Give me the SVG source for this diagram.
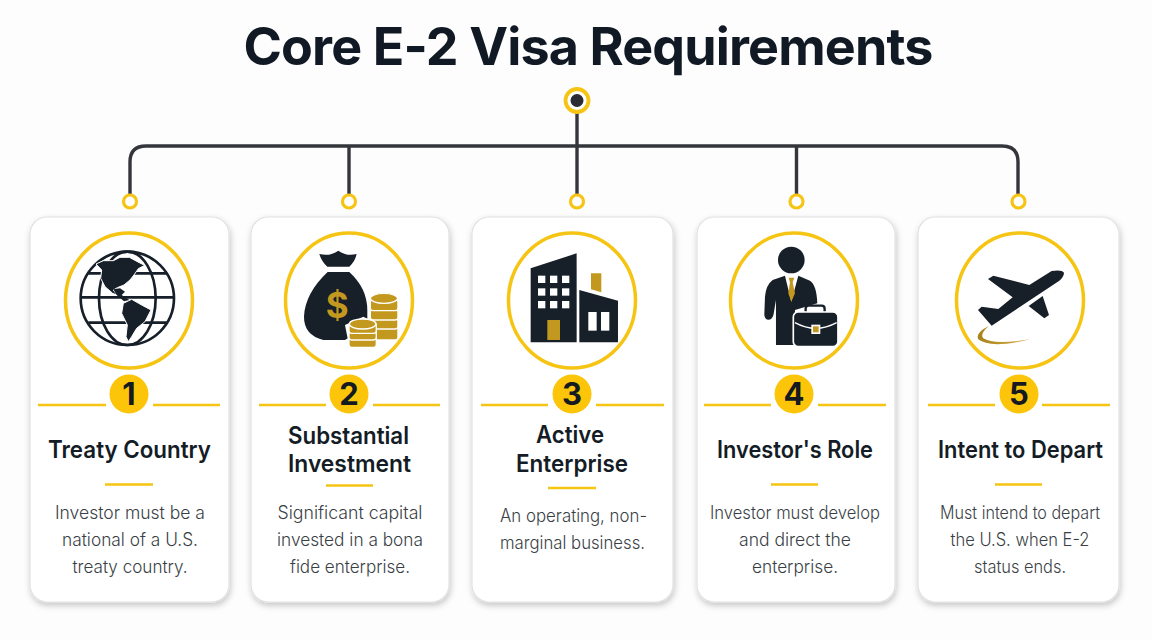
<svg xmlns="http://www.w3.org/2000/svg" width="1152" height="640" viewBox="0 0 1152 640">
<style>
.title{font:700 52px Inter,"Liberation Sans",sans-serif;fill:#111a24;text-anchor:middle;letter-spacing:-.85px}
.h{font:600 24px Inter,"Liberation Sans",sans-serif;fill:#141c26;text-anchor:middle}
.b{font:300 18px Inter,"Liberation Sans",sans-serif;fill:#3a3f46;text-anchor:middle}
.n{font:700 31px Inter,"Liberation Sans",sans-serif;fill:#141a20;text-anchor:middle}
.card{fill:#fff;stroke:#dfe1e4;stroke-width:1.2;filter:url(#sh)}
.ring{fill:#fff;stroke:#f6c413;stroke-width:3.5}
.badge{fill:#fcc509}
.rule{stroke:#f6c413;stroke-width:2.6;fill:none}
.conn{stroke:#34363b;stroke-width:3.4;fill:none}
.dot{fill:#fff;stroke:#f6c413;stroke-width:3.2}
.dk{fill:#171f29}
.gd{fill:#c3981f}
.wh{fill:#fff}
</style>
<defs>
<filter id="sh" x="-10%" y="-10%" width="120%" height="120%"><feDropShadow dx="1" dy="3" stdDeviation="3" flood-color="#000" flood-opacity=".22"/></filter>
<linearGradient id="sw" x1="0" x2="1" y1="0" y2="0"><stop offset="0" stop-color="#a88218"/><stop offset="1" stop-color="#d8b04a"/></linearGradient>
</defs>
<rect width="1152" height="640" fill="#fdfdfd"/>
<text class="title" x="588" y="65">Core E-2 Visa Requirements</text>
<g id="connectors">
<path class="conn" d="M577 108V195"/>
<path class="conn" d="M130 195V162Q130 146 146 146H1002Q1018 146 1018 162V195"/>
<path class="conn" d="M349 146V195M796.500 146V195"/>
<circle cx="577" cy="100.500" r="11.500" fill="#fff" stroke="#f6c413" stroke-width="3.800"/>
<circle cx="577" cy="100.500" r="6.500" fill="#2a2c33"/>
<circle class="dot" cx="130" cy="201.500" r="6.500"/>
<circle class="dot" cx="349" cy="201.500" r="6.500"/>
<circle class="dot" cx="577" cy="201.500" r="6.500"/>
<circle class="dot" cx="796.500" cy="201.500" r="6.500"/>
<circle class="dot" cx="1018.500" cy="201.500" r="6.500"/>
</g>
<g id="node1">
<rect class="card" x="30" y="217" width="199" height="385" rx="17"/>
<ellipse class="ring" cx="129" cy="300.500" rx="63.500" ry="67.500"/>
<g transform="translate(70 240) scale(.3333)">
<g fill="none" stroke="#171f29" stroke-width="8">
<circle cx="172" cy="175" r="140"/><ellipse cx="172" cy="175" rx="85" ry="140"/>
<path d="M55 100H290M32 172H312M55 248H290"/></g>
<g class="dk" stroke="#fff" stroke-width="3">
<path d="M78 72L100 62L130 62L150 52L178 52L208 68L224 76L205 86L192 105L180 120L162 135L142 143L130 150L142 166L128 160L105 140L92 115L95 90Z"/>
<path d="M160 190L185 178L215 195L243 210L225 245L200 265L185 290L175 305L168 290L172 255L155 220Z"/>
</g>
<path class="dk" d="M130 148L150 145L165 155L155 165L178 180L162 184L140 165Z"/>
</g>
<circle class="badge" cx="129" cy="394" r="19.500"/><text class="n" x="129" y="405">1</text>
<path class="rule" d="M38 405H106M153 405H220M105 484.500H153"/>
<text class="h" x="129.500" y="458" textLength="163" lengthAdjust="spacingAndGlyphs">Treaty Country</text>
<text class="b" x="130" y="519" textLength="150" lengthAdjust="spacingAndGlyphs">Investor must be a</text>
<text class="b" x="130" y="546" textLength="136" lengthAdjust="spacingAndGlyphs">national of a U.S.</text>
<text class="b" x="130" y="573" textLength="115" lengthAdjust="spacingAndGlyphs">treaty country.</text>
</g>
<g id="node2">
<rect class="card" x="251" y="217" width="198" height="385" rx="17"/>
<ellipse class="ring" cx="349" cy="300.500" rx="63.500" ry="67.500"/>
<g transform="translate(30 210) scale(.3333)">
<path class="dk" d="M868 132Q900 140 925 122Q950 140 980 132Q975 155 958 170H892Q875 155 868 132Z"/>
<path class="dk" d="M893 186H958Q1012 235 1012 300V350L945 390H880Q822 375 822 320Q825 250 893 186Z"/>
<text x="922" y="325" font-family="Inter,'Liberation Sans',sans-serif" font-weight="700" font-size="105" text-anchor="middle" fill="#c3981f">$</text>
<g class="gd" stroke="#fff" stroke-width="4">
<rect x="1021" y="350" width="83" height="40" rx="8"/><rect x="1021" y="325" width="83" height="32" rx="8"/><rect x="1021" y="298" width="83" height="32" rx="8"/><rect x="1021" y="268" width="83" height="34" rx="8"/><ellipse cx="1062" cy="265" rx="41" ry="15"/>
</g>
<path d="M945 345L1000 320L1040 340V405L960 420Z" fill="#fff"/>
<g class="gd" stroke="#fff" stroke-width="4">
<rect x="957" y="382" width="82" height="30" rx="8"/><rect x="957" y="362" width="82" height="28" rx="8"/><rect x="957" y="342" width="82" height="28" rx="8"/><ellipse cx="998" cy="342" rx="40" ry="15"/>
</g>
</g>
<circle class="badge" cx="349" cy="394" r="19.500"/><text class="n" x="349" y="405">2</text>
<path class="rule" d="M259 405H326M373 405H440M326 485.500H373"/>
<text class="h" x="348.500" y="444" textLength="121" lengthAdjust="spacingAndGlyphs">Substantial</text>
<text class="h" x="349.500" y="472" textLength="123" lengthAdjust="spacingAndGlyphs">Investment</text>
<text class="b" x="350" y="519" textLength="145" lengthAdjust="spacingAndGlyphs">Significant capital</text>
<text class="b" x="350" y="546" textLength="146" lengthAdjust="spacingAndGlyphs">invested in a bona</text>
<text class="b" x="350" y="573" textLength="120" lengthAdjust="spacingAndGlyphs">fide enterprise.</text>
</g>
<g id="node3">
<rect class="card" x="472" y="217" width="201" height="385" rx="17"/>
<ellipse class="ring" cx="572" cy="300.500" rx="63.500" ry="67.500"/>
<g transform="translate(470 210) scale(.3333)">
<path class="dk" d="M182 175L320 130V397H182Z"/>
<g class="wh"><rect x="204" y="197" width="22" height="22"/><rect x="240" y="197" width="22" height="22"/><rect x="276" y="197" width="22" height="22"/><rect x="204" y="235" width="22" height="22"/><rect x="240" y="235" width="22" height="22"/><rect x="276" y="235" width="22" height="22"/><rect x="204" y="273" width="22" height="22"/><rect x="240" y="273" width="22" height="22"/><rect x="276" y="273" width="22" height="22"/></g>
<rect class="gd" x="232" y="330" width="38" height="60"/>
<path class="dk" d="M328 240L444 272V397H328Z"/>
<path class="gd" d="M363 190H394V247L363 238Z"/>
<rect class="wh" x="355" y="306" width="25" height="56"/><rect class="wh" x="393" y="306" width="25" height="56"/>
</g>
<circle class="badge" cx="572" cy="394" r="19.500"/><text class="n" x="572" y="405">3</text>
<path class="rule" d="M481 405H548M596 405H664M548 488H596"/>
<text class="h" x="570" y="443" textLength="68" lengthAdjust="spacingAndGlyphs">Active</text>
<text class="h" x="572" y="472" textLength="112" lengthAdjust="spacingAndGlyphs">Enterprise</text>
<text class="b" x="573.500" y="522" textLength="147" lengthAdjust="spacingAndGlyphs">An operating, non-</text>
<text class="b" x="572.500" y="549" textLength="145" lengthAdjust="spacingAndGlyphs">marginal business.</text>
</g>
<g id="node4">
<rect class="card" x="697" y="217" width="198" height="385" rx="17"/>
<ellipse class="ring" cx="794" cy="300.500" rx="63.500" ry="67.500"/>
<g transform="translate(470 210) scale(.3333)">
<circle class="dk" cx="964" cy="150" r="40"/>
<path class="dk" d="M945 197L908 210Q888 225 885 260L883 315Q885 330 897 329Q908 328 911 312L918 270V405H975V300L1042 280Q1040 225 1020 212L985 197L964 275Z"/>
<path class="gd" d="M956 203H973L968 217L975 250L964 275L955 250L960 217Z"/>
<path d="M1007 305V296Q1007 287 1016 287H1055Q1064 287 1064 296V305" fill="none" stroke="#171f29" stroke-width="7"/>
<rect class="dk" x="970" y="306" width="134" height="104" rx="15" stroke="#fff" stroke-width="5"/>
<path d="M975 338Q1037 372 1100 338" fill="none" stroke="#fff" stroke-width="4"/>
<rect x="1024" y="344" width="27" height="28" fill="#fff"/><rect class="gd" x="1029" y="349" width="17" height="18"/>
</g>
<circle class="badge" cx="794" cy="394" r="19.500"/><text class="n" x="794" y="405">4</text>
<path class="rule" d="M704 405H771M818 405H886M771 484.500H818"/>
<text class="h" x="795" y="458" textLength="156" lengthAdjust="spacingAndGlyphs">Investor's Role</text>
<text class="b" x="795" y="519" textLength="170" lengthAdjust="spacingAndGlyphs">Investor must develop</text>
<text class="b" x="795" y="546" textLength="112" lengthAdjust="spacingAndGlyphs">and direct the</text>
<text class="b" x="795" y="573" textLength="86" lengthAdjust="spacingAndGlyphs">enterprise.</text>
</g>
<g id="node5">
<rect class="card" x="918" y="217" width="201" height="385" rx="17"/>
<ellipse class="ring" cx="1020" cy="300.500" rx="63.500" ry="67.500"/>
<g transform="translate(900 210) scale(.3333)">
<path class="dk" d="M492 188Q485 178 455 183L388 225L280 197L264 207L338 262L295 297L245 290L234 300L275 347L478 212Q492 200 492 188Z"/>
<path class="dk" d="M428 258L386 288L433 325L447 315Z"/>
<path d="M267 348Q225 368 235 388Q270 417 390 388Q280 405 250 385Q238 372 267 348Z" fill="url(#sw)"/>
</g>
<circle class="badge" cx="1019" cy="394" r="19.500"/><text class="n" x="1019" y="405">5</text>
<path class="rule" d="M928 405H995M1042 405H1110M995 484.500H1042"/>
<text class="h" x="1020.500" y="458" textLength="165" lengthAdjust="spacingAndGlyphs">Intent to Depart</text>
<text class="b" x="1020" y="519" textLength="160" lengthAdjust="spacingAndGlyphs">Must intend to depart</text>
<text class="b" x="1020" y="546" textLength="139" lengthAdjust="spacingAndGlyphs">the U.S. when E-2</text>
<text class="b" x="1020" y="573" textLength="92" lengthAdjust="spacingAndGlyphs">status ends.</text>
</g>
</svg>
